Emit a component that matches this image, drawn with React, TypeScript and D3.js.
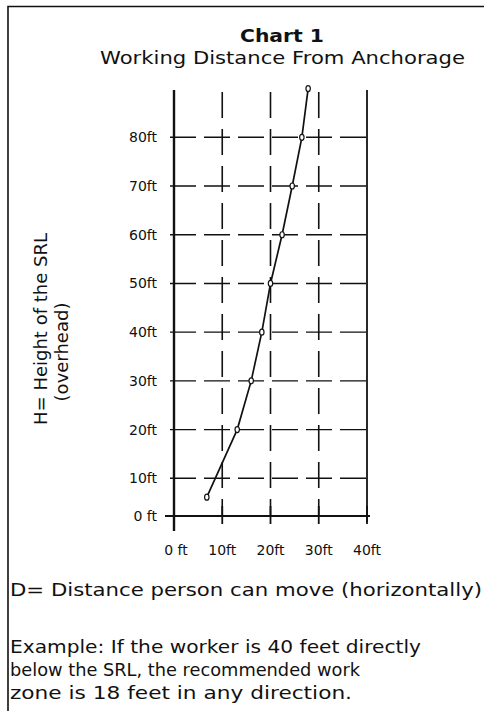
import React, { useEffect, useRef } from "react";
import * as d3 from "d3";

// Data
const heightsFt = [5, 20, 30, 40, 50, 60, 70, 80, 90];
const distancesFt = [6.8, 13.1, 16, 18.2, 20, 22.4, 24.5, 26.5, 27.8];
const xTicks = [0, 10, 20, 30, 40];
const xTickLabels = ["0 ft", "10ft", "20ft", "30ft", "40ft"];
const yTicks = [0, 10, 20, 30, 40, 50, 60, 70, 80];
const yTickLabels = ["0 ft", "10ft", "20ft", "30ft", "40ft", "50ft", "60ft", "70ft", "80ft"];
const titleText = "Chart 1";
const subtitleText = "Working Distance From Anchorage";
const yLabelLine1 = "H= Height of the SRL";
const yLabelLine2 = "(overhead)";
const xLabelText = "D= Distance person can move (horizontally)";
const exampleLines = [
  "Example: If the worker is 40 feet directly",
  "below the SRL, the recommended work",
  "zone is 18 feet in any direction.",
];

const W = 484;
const H = 711;
const FONT = "'DejaVu Sans', Verdana, sans-serif";

export default function App() {
  const ref = useRef<SVGSVGElement | null>(null);

  useEffect(() => {
    const svg = d3.select(ref.current);
    svg.selectAll("*").remove();

    svg.append("rect").attr("x", 0).attr("y", 0).attr("width", W).attr("height", H).attr("fill", "#fff");

    // frame (left + top)
    svg.append("path")
      .attr("d", `M8,${H} L8,6.5 L${W},6.5`)
      .attr("fill", "none").attr("stroke", "#111").attr("stroke-width", 1.6);

    const x = d3.scaleLinear().domain([0, 40]).range([174, 367]);
    const y = d3.scaleLinear().domain([0, 10, 80]).range([516, 478.3, 137.3]);
    const yTop = 90;

    // Titles
    svg.append("text").text(titleText)
      .attr("x", 240).attr("y", 42)
      .attr("font-family", FONT).attr("font-weight", "bold").attr("font-size", 17)
      .attr("textLength", 84).attr("lengthAdjust", "spacingAndGlyphs").attr("fill", "#111");
    svg.append("text").text(subtitleText)
      .attr("x", 100).attr("y", 64)
      .attr("font-family", FONT).attr("font-size", 18)
      .attr("textLength", 365).attr("lengthAdjust", "spacingAndGlyphs").attr("fill", "#111");

    const g = svg.append("g");

    // horizontal dashed gridlines (10..80)
    g.selectAll("line.hgrid")
      .data(yTicks.filter((t) => t > 0))
      .join("line")
      .attr("class", "hgrid")
      .attr("x1", 170).attr("x2", x(40))
      .attr("y1", (d) => y(d)).attr("y2", (d) => y(d))
      .attr("stroke", "#111").attr("stroke-width", 1.4)
      .attr("stroke-dasharray", "26,8");

    // vertical dashed gridlines (10..30)
    g.selectAll("line.vgrid")
      .data(xTicks.filter((t) => t > 0 && t < 40))
      .join("line")
      .attr("class", "vgrid")
      .attr("x1", (d) => x(d)).attr("x2", (d) => x(d))
      .attr("y1", 92).attr("y2", y(0))
      .attr("stroke", "#111").attr("stroke-width", 1.6)
      .attr("stroke-dasharray", "26,11");

    // right solid border at 40ft
    g.append("line")
      .attr("x1", x(40)).attr("x2", x(40)).attr("y1", yTop).attr("y2", y(0) + 6)
      .attr("stroke", "#111").attr("stroke-width", 1.8);

    // x ticks below axis
    g.selectAll("line.xtick")
      .data(xTicks.filter((t) => t > 0))
      .join("line")
      .attr("class", "xtick")
      .attr("x1", (d) => x(d)).attr("x2", (d) => x(d))
      .attr("y1", y(0) - 10).attr("y2", y(0) + 8)
      .attr("stroke", "#111").attr("stroke-width", 1.8);

    // y axis
    g.append("line")
      .attr("x1", x(0)).attr("x2", x(0)).attr("y1", yTop).attr("y2", y(0) + 15)
      .attr("stroke", "#111").attr("stroke-width", 2.4);
    // x axis
    g.append("line")
      .attr("x1", 165).attr("x2", x(40) + 3).attr("y1", y(0)).attr("y2", y(0))
      .attr("stroke", "#111").attr("stroke-width", 2.2);

    // tick labels
    g.selectAll("text.ylab")
      .data(yTicks)
      .join("text")
      .attr("class", "ylab")
      .attr("x", 157).attr("y", (d) => y(d) + 5)
      .attr("text-anchor", "end")
      .attr("font-family", FONT).attr("font-size", 14).attr("fill", "#111")
      .text((d, i) => yTickLabels[i]);

    g.selectAll("text.xlab")
      .data(xTicks)
      .join("text")
      .attr("class", "xlab")
      .attr("x", (d) => x(d) + (d === 0 ? 2 : 0)).attr("y", 555)
      .attr("text-anchor", "middle")
      .attr("font-family", FONT).attr("font-size", 14).attr("fill", "#111")
      .text((d, i) => xTickLabels[i]);

    // curve
    const pts: [number, number][] = heightsFt.map((h, i) => [distancesFt[i], h]);
    const line = d3.line<[number, number]>().x((d) => x(d[0])).y((d) => y(d[1]));
    g.append("path").datum(pts).attr("d", line)
      .attr("fill", "none").attr("stroke", "#111").attr("stroke-width", 1.7);

    g.selectAll("ellipse.pt")
      .data(pts)
      .join("ellipse")
      .attr("class", "pt")
      .attr("cx", (d) => x(d[0])).attr("cy", (d) => y(d[1]))
      .attr("rx", 2.2).attr("ry", 3)
      .attr("fill", "#fff").attr("stroke", "#111").attr("stroke-width", 1.2);

    // y axis label (rotated)
    svg.append("text").text(yLabelLine1)
      .attr("transform", `translate(47,329) rotate(-90)`)
      .attr("text-anchor", "middle")
      .attr("font-family", FONT).attr("font-size", 18).attr("fill", "#111");
    svg.append("text").text(yLabelLine2)
      .attr("transform", `translate(68,352) rotate(-90)`)
      .attr("text-anchor", "middle")
      .attr("font-family", FONT).attr("font-size", 18).attr("fill", "#111");

    // bottom texts
    svg.append("text").text(xLabelText)
      .attr("x", 10).attr("y", 596)
      .attr("font-family", FONT).attr("font-size", 18).attr("fill", "#111")
      .attr("textLength", 472).attr("lengthAdjust", "spacingAndGlyphs");

    const exWidths = [411, 350, 342];
    exampleLines.forEach((t, i) => {
      svg.append("text").text(t)
        .attr("x", 10).attr("y", 653 + i * 23)
        .attr("font-family", FONT).attr("font-size", 18).attr("fill", "#111")
        .attr("textLength", exWidths[i]).attr("lengthAdjust", "spacingAndGlyphs");
    });
  }, []);

  return (
    <svg
      ref={ref}
      width={W}
      height={H}
      style={{ position: "absolute", left: 0, top: 0, display: "block" }}
    />
  );
}
